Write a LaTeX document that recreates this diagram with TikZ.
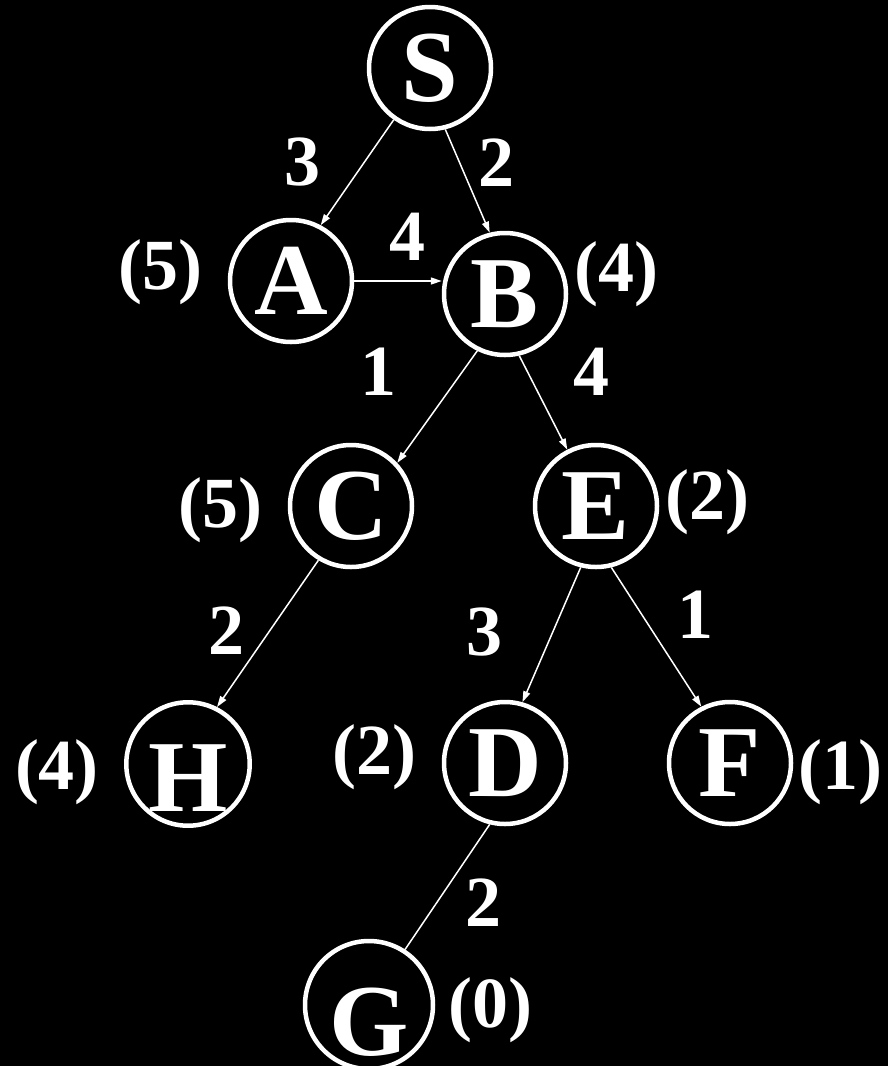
\documentclass[tikz,border=0pt]{standalone}
\usepackage{fontspec}
\setmainfont{Liberation Serif}
\usetikzlibrary{arrows.meta}

\begin{document}
\begin{tikzpicture}[x=1pt, y=-1pt, white,
  vertex/.style={draw, circle, line width=4.5pt, minimum size=122pt, inner sep=0pt,
    font=\fontsize{102}{102}\selectfont\bfseries, text height=67pt, text depth=0pt},
  sunk/.style={text height=#1},
  num/.style={font=\fontsize{72}{72}\selectfont\bfseries},
  edge/.style={line width=1.5pt, -{Triangle[length=11pt,width=7pt]}}]
  % 背景
  \useasboundingbox (0,0) rectangle (888,1066);
  \fill[black] (0,0) rectangle (888,1066);

  % 结点
  \node[vertex] (S) at (430,68) {S};
  \node[vertex] (A) at (291,281) {A};
  \node[vertex] (B) at (505,294) {B};
  \node[vertex] (C) at (351,506) {C};
  \node[vertex] (E) at (596,506) {E};
  \node[vertex, sunk=95pt] (H) at (188,764) {H};
  \node[vertex] (D) at (505,763) {D};
  \node[vertex] (F) at (730,763) {F};
  \node[vertex, sunk=101pt] (G) at (369,1005) {G};

  % 边
  \draw[edge] (S.235) -- (A.62);
  \draw[edge] (S.284) -- (B.104);
  \draw[edge] (A.east) -- (A.east -| B.west);
  \draw[edge] (B.244) -- (C.43);
  \draw[edge] (B.283) -- (E.117);
  \draw[edge] (C.239) -- (H.63);
  \draw[edge] (E.256) -- (D.74);
  \draw[edge] (E.284) -- (F.117);
  \draw[edge, -] (D.256) -- (G.57);

  % 边权
  \node[num] (wSA) at (302,162) {3};
  \node[num] (wSB) at (496,163) {2};
  \node[num] (wAB) at (407,237) {4};
  \node[num] (wBC) at (378,372) {1};
  \node[num] (wBE) at (591,372) {4};
  \node[num] (wCH) at (226,631) {2};
  \node[num] (wED) at (484,632) {3};
  \node[num] (wEF) at (695,615) {1};
  \node[num] (wDG) at (483,903) {2};

  % 估价值
  \node[num] (hA) at (160,272) {(5)};
  \node[num] (hB) at (616,274) {(4)};
  \node[num] (hC) at (220,510) {(5)};
  \node[num] (hE) at (707,502) {(2)};
  \node[num] (hH) at (57,772) {(4)};
  \node[num] (hD) at (374,757) {(2)};
  \node[num] (hF) at (840,772) {(1)};
  \node[num] (hG) at (490,1010) {(0)};
\end{tikzpicture}
\end{document}
